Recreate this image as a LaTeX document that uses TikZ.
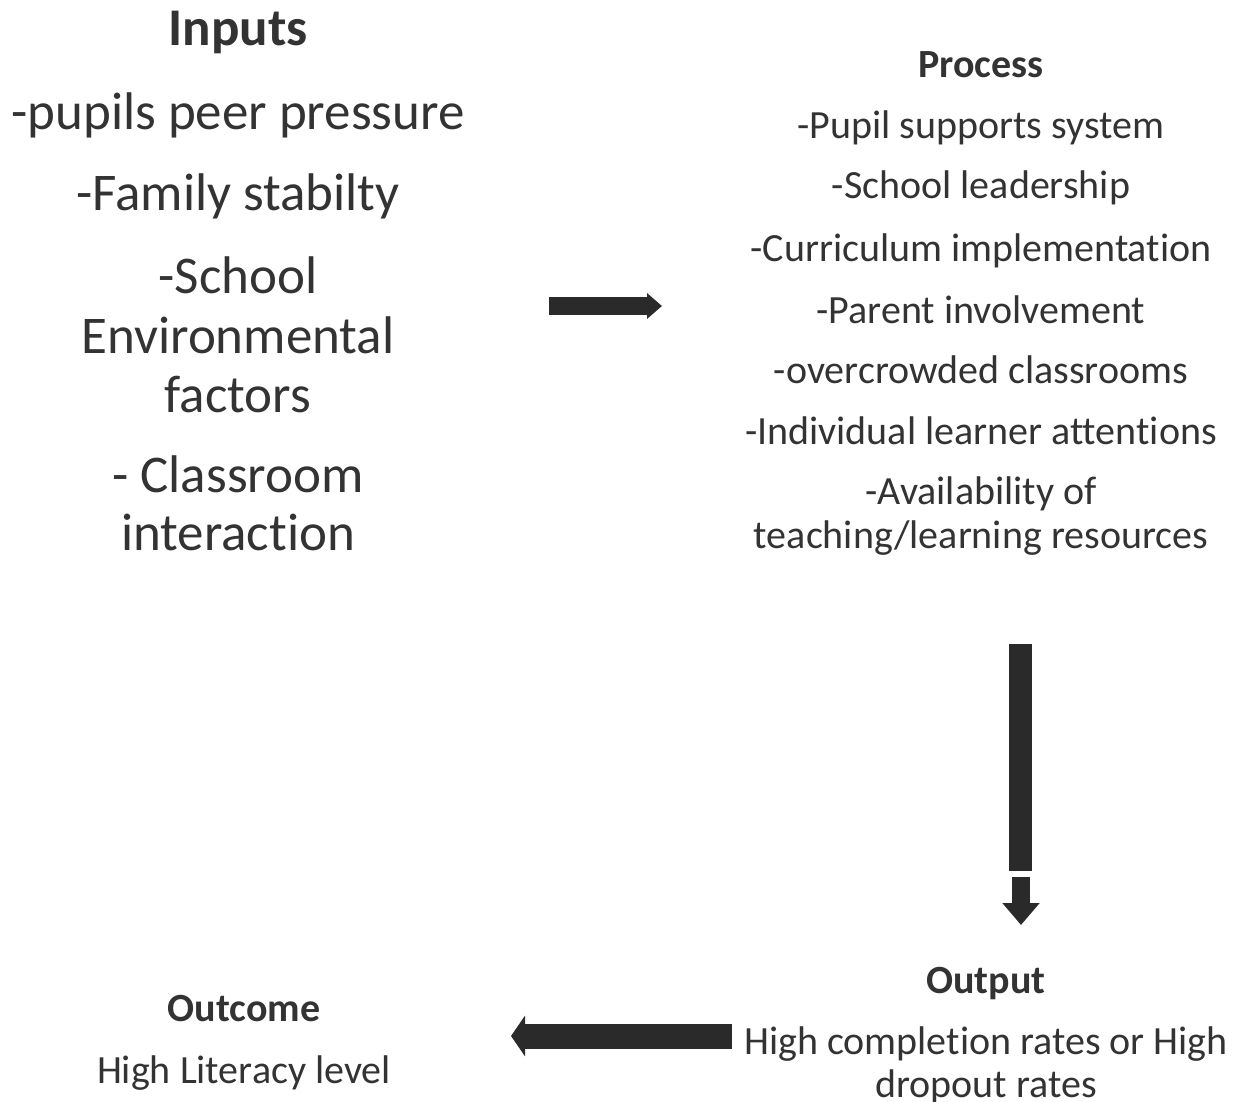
\documentclass[tikz,border=0pt]{standalone}
\usepackage{fontspec}
\setmainfont{Carlito}[RawFeature=-liga]
\usetikzlibrary{arrows.meta}
\definecolor{txt}{HTML}{333333}
\definecolor{arr}{HTML}{2A2A2A}
\tikzset{
  big/.style={anchor=base, inner sep=0pt, text=txt, font=\fontsize{53}{60}\selectfont},
  bigtitle/.style={big, font=\fontsize{53}{60}\selectfont\bfseries},
  small/.style={anchor=base, inner sep=0pt, text=txt, font=\fontsize{40}{46}\selectfont},
  smalltitle/.style={small, font=\fontsize{40}{46}\selectfont\bfseries},
  blockarrow/.style={draw=arr, line cap=butt}
}
\begin{document}
\begin{tikzpicture}[x=1pt,y=-1pt]
\path[use as bounding box] (0,0) rectangle (1242,1102);
% Inputs
\node[bigtitle] (inT) at (238,46) {Inputs};
\node[big] (in1) at (238,130) {-pupils peer pressure};
\node[big] (in2) at (238,211) {-Family stabilty};
\node[big] (in3a) at (238,293) {-School};
\node[big] (in3b) at (238,353) {Environmental};
\node[big] (in3c) at (238,412) {factors};
\node[big] (in4a) at (238,492) {- Classroom};
\node[big] (in4b) at (238,550) {interaction};
% Process
\node[smalltitle] (prT) at (981,78) {Process};
\node[small] (pr1) at (981,139) {-Pupil supports system};
\node[small] (pr2) at (981,199) {-School leadership};
\node[small] (pr3) at (981,261) {-Curriculum implementation};
\node[small] (pr4) at (981,323) {-Parent involvement};
\node[small] (pr5) at (981,383) {-overcrowded classrooms};
\node[small] (pr6) at (981,444) {-Individual learner attentions};
\node[small] (pr7a) at (981,504) {-Availability of};
\node[small] (pr7b) at (981,548) {teaching/learning resources};
% Output
\node[smalltitle] (ouT) at (986,993) {Output};
\node[small] (ou1) at (986,1054) {High completion rates or High};
\node[small] (ou2) at (986,1097) {dropout rates};
% Outcome
\node[smalltitle] (ocT) at (244,1021) {Outcome};
\node[small] (oc1) at (244,1083) {High Literacy level};
% Arrows
\coordinate (a1s) at (549,306);
\coordinate (a1e) at (662,306);
\draw[blockarrow, line width=18pt, -{Triangle[length=15pt,width=25pt]}] (a1s) -- (a1e);
\coordinate (a2s) at (1020.5,644);
\coordinate (a2m) at (1020.5,871);
\coordinate (a2n) at (1021,877);
\coordinate (a2e) at (1021,925);
\draw[blockarrow, line width=23pt] (a2s) -- (a2m);
\draw[blockarrow, line width=18pt, -{Triangle[length=22pt,width=36pt]}] (a2n) -- (a2e);
\coordinate (a3s) at (732,1036);
\coordinate (a3e) at (511,1036);
\draw[blockarrow, line width=25pt, -{Triangle[length=14pt,width=40pt]}] (a3s) -- (a3e);
\end{tikzpicture}
\end{document}
